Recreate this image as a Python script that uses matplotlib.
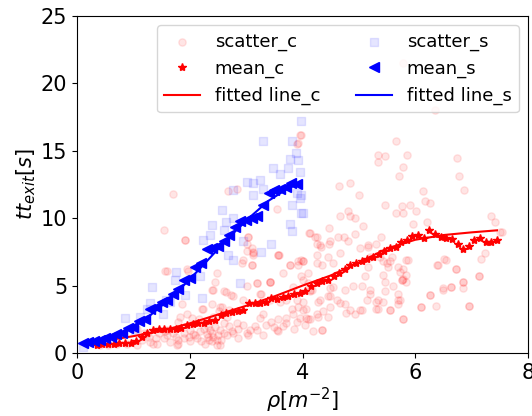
import numpy as np
import matplotlib
matplotlib.use("Agg")
import matplotlib.pyplot as plt

# scatter_c : raw points, condition c
scatter_c_x = [1.70, 2.67, 1.55, 2.83, 3.95, 3.92, 3.54, 1.91, 1.59, 1.97, 3.04, 3.01, 3.10, 3.13,
               2.95, 3.10, 3.57, 3.78, 4.01, 4.13, 4.25, 4.25, 3.42, 3.19, 3.01, 2.65, 2.77, 2.42,
               2.24, 2.54, 2.95, 3.27, 1.83, 1.59, 4.01, 4.10, 4.13, 6.35, 5.78,
               3.97, 3.91, 5.66, 5.34, 5.34, 5.46, 5.86, 5.79, 5.72, 6.74, 6.78, 6.86, 4.65, 4.84,
               5.00, 6.14, 6.17, 6.27, 5.46, 5.76, 5.90, 5.66, 5.79, 6.02, 6.20, 5.96, 7.35, 7.41,
               7.50, 4.66, 4.84, 4.93, 4.81, 4.47, 4.63, 4.12, 4.22, 4.33, 4.47, 5.07, 5.16, 5.37,
               5.50, 5.58, 5.84, 5.79, 6.40, 6.55, 6.73, 6.85, 6.49, 6.64, 6.26, 7.13, 6.11, 6.96,
               5.79, 4.34, 4.13, 4.01, 4.25, 4.46, 4.54, 4.54, 4.75, 4.90, 4.84, 5.02, 5.14, 5.34,
               5.70, 5.55, 5.34, 5.20, 5.46, 5.61, 5.76, 5.84, 4.16, 4.01, 4.31, 4.46, 4.49, 4.66,
               4.78, 4.25, 4.07, 3.90, 3.84, 3.95, 3.98, 3.57, 3.92, 3.66, 3.42, 3.13,
               3.04, 3.01, 3.13, 3.10, 2.92, 3.59, 3.78, 3.92, 4.25, 4.34, 4.10, 3.98, 3.42, 3.19,
               2.74, 3.24, 3.84, 4.13, 4.49, 4.61, 4.75, 5.05, 4.93, 4.49, 4.28, 3.71, 3.92, 4.01,
               4.07, 4.28, 4.37, 4.46, 3.71, 3.57, 3.45, 3.30, 3.07, 2.83, 2.77, 3.04, 3.30, 3.54,
               3.66, 3.90, 4.10, 4.34, 2.86, 3.81, 3.42, 3.60, 5.20, 5.31, 5.31, 5.05, 5.11, 5.16,
               5.20, 5.02, 5.16, 5.31, 4.73, 4.49, 4.31, 4.66, 4.81, 4.93,
               5.40, 5.43, 5.55, 5.52, 5.69, 5.73, 5.87, 5.43, 5.79, 5.76, 5.84, 5.46, 5.70, 5.43,
               5.73, 5.70, 5.55, 5.79, 6.11, 6.26, 6.37, 6.49, 6.64, 6.39, 6.51, 6.73, 6.84, 6.84,
               6.96, 7.13, 7.17, 7.23, 7.53,
               1.92, 1.56, 1.95, 2.48, 2.39, 2.60, 2.45, 1.86, 2.22, 2.39, 2.57, 2.69, 2.66, 2.51,
               2.42, 1.95, 2.04, 1.80, 2.16, 2.33, 2.54, 2.66, 2.48, 2.33, 2.13, 1.98, 1.80, 1.65,
               1.54, 1.42, 1.30, 1.15, 1.27, 1.06, 0.89, 0.71, 1.06, 1.18, 2.01, 2.19, 2.36, 2.39,
               2.42, 2.60, 1.89, 1.71, 1.56, 1.45, 1.77, 2.54, 2.27, 2.48, 1.80, 1.35, 4.19, 3.57,
               3.01, 3.19, 0.55, 0.40,
               2.45, 2.50, 2.55, 2.40, 2.30, 2.10, 1.90, 1.75, 2.70, 2.85, 3.15, 3.35, 3.50, 2.20,
               2.05, 1.60, 1.40, 2.60, 2.75, 2.95, 3.25, 3.70, 3.85, 4.05, 1.25, 2.00, 2.25, 2.35]
scatter_c_y = [11.8, 12.0, 9.1, 12.2, 16.2, 15.6, 10.7, 8.4, 6.1, 6.1, 8.6, 8.1, 7.8, 7.3,
               6.9, 6.5, 7.3, 6.5, 6.8, 8.9, 8.1, 8.6, 5.3, 5.2, 5.0, 4.5, 4.2, 4.7,
               3.3, 3.4, 3.9, 4.4, 2.7, 1.7, 5.4, 5.2, 4.6, 18.0, 21.5,
               16.2, 15.5, 15.7, 14.7, 14.2, 14.6, 14.7, 13.8, 13.1, 14.5, 13.1, 12.1, 12.4, 12.6,
               11.7, 12.0, 11.3, 11.1, 11.0, 10.9, 11.0, 10.4, 10.4, 10.5, 9.7, 9.6, 10.2, 9.7,
               9.0, 10.2, 10.2, 10.0, 10.5, 9.3, 8.6, 8.9, 8.6, 7.9, 8.1, 9.4, 7.9, 7.1,
               6.7, 7.1, 6.9, 6.2, 6.5, 6.9, 6.2, 5.3, 4.8, 4.9, 4.3, 5.7, 3.4, 3.5,
               2.5, 1.7, 2.5, 6.8, 7.3, 7.1, 6.7, 4.9, 4.7, 5.0, 3.2, 3.2, 3.9, 3.9,
               3.9, 3.2, 3.3, 4.7, 5.3, 5.0, 5.4, 5.8, 4.7, 3.8, 3.9, 4.2, 3.4, 3.7,
               3.0, 2.9, 3.3, 3.9, 2.9, 2.6, 6.9, 7.3, 6.5, 5.9, 5.3, 7.5,
               8.6, 7.6, 7.4, 6.5, 6.7, 7.3, 6.5, 6.8, 6.7, 6.5, 5.9, 5.7, 5.3, 5.2,
               4.3, 4.4, 4.9, 4.7, 4.8, 3.9, 3.6, 3.2, 2.9, 4.2, 3.8, 3.9, 3.4, 3.2,
               2.6, 2.7, 3.1, 2.7, 2.6, 2.5, 2.3, 2.9, 1.7, 2.2, 1.5, 1.3, 1.3, 1.7,
               2.0, 2.3, 2.5, 1.7, 1.1, 3.3, 3.9, 3.8, 4.4, 3.8, 3.3, 5.0, 5.7, 6.4,
               7.1, 7.8, 8.0, 8.1, 8.6, 8.3, 8.0, 7.4, 8.3, 8.8,
               8.6, 6.8, 6.8, 6.4, 6.4, 6.0, 6.9, 5.8, 5.5, 5.4, 5.3, 4.6, 4.4, 3.8,
               3.9, 3.6, 3.2, 2.5, 3.4, 4.3, 3.5, 4.7, 4.9, 6.5, 7.0, 6.2, 5.3, 4.8,
               3.5, 5.7, 7.0, 7.4, 9.0,
               8.4, 6.1, 6.2, 5.9, 4.7, 4.6, 5.3, 3.6, 3.3, 3.6, 3.4, 3.2, 2.7, 3.1,
               2.7, 2.9, 2.6, 2.3, 2.5, 2.0, 1.7, 1.3, 1.0, 1.2, 1.1, 1.2, 1.0, 0.8,
               1.1, 0.7, 0.8, 1.0, 1.2, 0.6, 0.7, 0.7, 1.8, 1.5, 1.7, 1.6, 1.7, 1.5,
               1.2, 1.5, 1.5, 1.5, 1.6, 1.5, 0.6, 0.6, 0.7, 0.6, 0.7, 0.7, 1.6, 1.6,
               1.5, 1.7, 0.6, 0.6,
               1.9, 1.3, 1.0, 0.9, 1.4, 1.3, 1.1, 1.2, 2.0, 1.8, 2.0, 2.1, 1.9, 0.9,
               1.4, 1.3, 1.1, 2.2, 1.6, 2.1, 2.6, 2.2, 1.8, 2.1, 1.4, 0.9, 1.8, 1.0]

# scatter_s : raw points, condition s
scatter_s_x = [3.98, 3.30, 3.82, 3.88, 3.77, 3.92, 3.48, 3.60, 3.75, 3.95, 3.01, 3.12, 3.24, 2.76,
               3.12, 3.30, 3.90, 3.98, 3.95, 3.81, 2.57, 2.77, 2.65, 2.39, 2.60, 2.95, 3.27, 3.45,
               3.77, 3.81, 3.98, 2.24, 2.68, 2.77, 2.18, 1.76, 1.74, 1.91, 2.21, 2.89, 1.29, 1.53,
               1.65, 0.85, 1.12, 1.03, 0.11, 2.36, 1.33, 1.57, 1.24, 4.00]
scatter_s_y = [17.2, 15.7, 15.7, 14.8, 14.4, 14.3, 13.7, 13.3, 13.7, 13.45, 12.7, 12.6, 12.8, 12.1,
               11.7, 12.2, 11.85, 11.7, 11.5, 11.0, 10.6, 10.0, 9.7, 9.5, 9.1, 8.3, 7.5, 8.1,
               9.6, 9.05, 10.4, 8.4, 7.3, 6.9, 5.7, 6.0, 5.4, 4.3, 4.05, 5.2, 3.7, 2.9,
               3.8, 2.6, 2.7, 1.7, 0.47, 8.75, 4.9, 3.9, 3.3, 10.4]

# mean_c
mean_c_x = [0.35, 0.45, 0.55, 0.65, 0.75, 0.85, 0.95, 1.05, 1.15, 1.25, 1.35, 1.45, 1.55, 1.65,
            1.75, 1.85, 1.95, 2.05, 2.15, 2.25, 2.35, 2.45, 2.55, 2.65, 2.75, 2.85, 2.95, 3.05,
            3.15, 3.25, 3.35, 3.45, 3.55, 3.65, 3.75, 3.85, 3.95, 4.05, 4.15, 4.25, 4.35, 4.45,
            4.55, 4.65, 4.75, 4.85, 4.95, 5.05, 5.15, 5.25, 5.35, 5.45, 5.55, 5.65, 5.75, 5.85,
            5.95, 6.05, 6.15, 6.25, 6.35, 6.45, 6.55, 6.65, 6.75, 6.85, 6.95, 7.05, 7.15, 7.25,
            7.35, 7.45]
mean_c_y = [0.62, 0.65, 0.70, 0.70, 0.72, 0.72, 0.75, 0.90, 1.20, 1.50, 1.70, 1.75, 1.75, 1.80,
            1.80, 1.85, 2.05, 2.15, 2.20, 2.25, 2.35, 2.45, 2.80, 2.95, 3.05, 3.10, 3.20, 3.70,
            3.72, 3.72, 3.75, 4.05, 3.98, 4.18, 4.20, 4.40, 4.45, 4.60, 5.00, 5.20, 5.35, 5.42,
            5.70, 5.95, 6.20, 6.50, 6.65, 6.85, 7.00, 7.15, 7.35, 7.60, 7.80, 7.90, 8.20, 8.35,
            8.65, 8.75, 8.50, 9.10, 8.85, 8.60, 8.50, 8.45, 8.10, 7.70, 7.95, 8.40, 8.55, 8.20,
            8.25, 8.40]

# mean_s
mean_s_x = [0.1, 0.2, 0.3, 0.4, 0.5, 0.6, 0.7, 0.8, 0.9, 1.0, 1.1, 1.2, 1.3, 1.4, 1.5, 1.6, 1.7,
            1.8, 1.9, 2.0, 2.1, 2.2, 2.3, 2.4, 2.5, 2.6, 2.7, 2.8, 2.9, 3.0, 3.1, 3.2, 3.3, 3.4,
            3.5, 3.6, 3.7, 3.8, 3.9]
mean_s_y = [0.75, 0.80, 0.90, 1.00, 1.10, 1.15, 1.40, 1.50, 1.85, 1.95, 2.40, 2.55, 3.25, 3.40,
            3.75, 3.90, 4.40, 4.75, 5.45, 5.60, 6.40, 6.70, 7.75, 7.80, 7.95, 8.30, 8.75, 9.35,
            9.80, 9.90, 10.05, 10.20, 11.00, 11.85, 12.10, 12.20, 12.35, 12.60, 12.55]

# fitted lines
fit_c_x = [0.7, 1.0, 1.5, 2.0, 2.5, 3.0, 3.5, 4.0, 4.5, 5.0, 5.5, 6.0, 6.5, 7.0, 7.45]
fit_c_y = [1.05, 1.25, 1.65, 2.2, 2.85, 3.5, 4.2, 5.0, 5.75, 6.7, 7.75, 8.4, 8.75, 8.95, 9.1]
fit_s_x = [0.1, 0.4, 0.7, 1.0, 1.3, 1.6, 1.9, 2.2, 2.5, 2.8, 3.1, 3.4, 3.7, 3.95]
fit_s_y = [0.75, 0.95, 1.35, 1.95, 2.8, 3.85, 5.05, 6.35, 7.7, 9.0, 10.2, 11.3, 12.1, 12.6]

fig = plt.figure(figsize=(5.32, 4.16), dpi=100)
ax = fig.add_axes([77 / 532, 63 / 416, 451 / 532, 337 / 416])

ax.scatter(scatter_c_x, scatter_c_y, s=28, color='red', alpha=0.1, label='scatter_c')
ax.plot(mean_c_x, mean_c_y, '*', color='red', markersize=6, label='mean_c')
ax.plot(fit_c_x, fit_c_y, '-', color='red', linewidth=1.5, label='fitted line_c')
ax.scatter(scatter_s_x, scatter_s_y, s=28, marker='s', color='blue', alpha=0.1, label='scatter_s')
ax.plot(mean_s_x, mean_s_y, '<', color='blue', markersize=6.5, label='mean_s')
ax.plot(fit_s_x, fit_s_y, '-', color='blue', linewidth=1.5, label='fitted line_s')

ax.set_xlim(0, 8)
ax.set_ylim(0, 25)
ax.set_xticks([0, 2, 4, 6, 8])
ax.set_yticks([0, 5, 10, 15, 20, 25])
ax.tick_params(labelsize=15)
ax.set_xlabel(r'$\rho[m^{-2}]$', fontsize=15, labelpad=2)
ax.set_ylabel(r'$tt_{exit}[s]$', fontsize=15, labelpad=2)
ax.legend(ncol=2, loc='upper right', fontsize=13)

fig.savefig('out.png', dpi=100)
